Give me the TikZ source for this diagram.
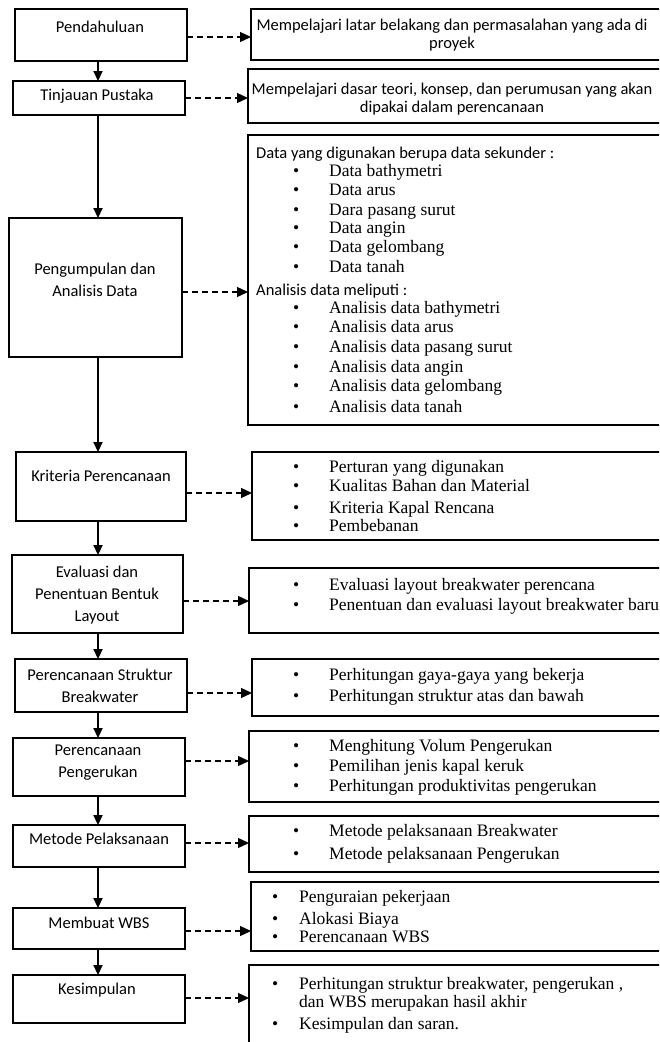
\documentclass[tikz,border=0pt]{standalone}
\usepackage{fontspec}
\setmainfont{Liberation Serif}
\newfontfamily\calibri{Carlito}
\usetikzlibrary{arrows.meta}

\begin{document}
\begin{tikzpicture}[x = 1pt, y = -1pt,
    box/.style = {draw, line width = 1.5pt, anchor = north west,
                  inner sep = 0pt, outer sep = 0pt},
    title/.style = {font = \calibri\fontsize{16.5}{22}\selectfont,
                    align = center, inner sep = 0pt},
    note/.style = {font = \calibri\fontsize{16.5}{17.5}\selectfont,
                   align = center, inner sep = 0pt},
    entry/.style = {font = \fontsize{17.5}{20}\selectfont, anchor = west,
                    inner sep = 0pt, text height = 11pt, text depth = 3pt},
    down/.style = {line width = 2.2pt, -{Triangle[length = 10pt, width = 9pt]}},
    aside/.style = {line width = 1.3pt, dash pattern = on 6pt off 4pt,
                    -{Triangle[length = 11pt, width = 10pt]}}]
      \useasboundingbox (0,0) rectangle (659,1042);
      \clip (0,0) rectangle (659,1042);
      \coordinate (axis) at (98,0);

      \node [box, minimum width = 172pt, minimum height = 52pt] (pend) at (15,9) {};
      \node [box, minimum width = 172pt, minimum height = 34pt] (tinj) at (13,81) {};
      \node [box, minimum width = 173pt, minimum height = 139pt] (kump) at (9,218) {};
      \node [box, minimum width = 170pt, minimum height = 69pt] (krit) at (16,452) {};
      \node [box, minimum width = 171pt, minimum height = 78pt] (eval) at (12,555) {};
      \node [box, minimum width = 172pt, minimum height = 53pt] (stru) at (15,659) {};
      \node [box, minimum width = 172pt, minimum height = 58pt] (keruk) at (13,738) {};
      \node [box, minimum width = 172pt, minimum height = 42pt] (meto) at (13,825) {};
      \node [box, minimum width = 172pt, minimum height = 41pt] (wbs) at (13,908) {};
      \node [box, minimum width = 172pt, minimum height = 48pt] (kesim) at (13,975) {};

      \node [box, minimum width = 419pt, minimum height = 51pt] (r1) at (251,9) {};
      \node [box, minimum width = 422pt, minimum height = 54pt] (r2) at (248,69) {};
      \node [box, minimum width = 422pt, minimum height = 290pt] (r3) at (248,135) {};
      \node [box, minimum width = 418pt, minimum height = 88pt] (r4) at (252,452) {};
      \node [box, minimum width = 421pt, minimum height = 65pt] (r5) at (249,568) {};
      \node [box, minimum width = 418pt, minimum height = 57pt] (r6) at (252,659) {};
      \node [box, minimum width = 421pt, minimum height = 71pt] (r7) at (249,731) {};
      \node [box, minimum width = 421pt, minimum height = 56pt] (r8) at (249,816) {};
      \node [box, minimum width = 419pt, minimum height = 69pt] (r9) at (251,882) {};
      \node [box, minimum width = 421pt, minimum height = 90pt] (r10) at (249,965) {};

      \node [title] (pendT) at (100,27) {Pendahuluan};
      \node [title] (tinjT) at (97,96) {Tinjauan Pustaka};
      \node [title] (kumpT) at (95,280) {Pengumpulan dan\\Analisis Data};
      \node [title] (kritT) at (101,476) {Kriteria Perencanaan};
      \node [title] (evalT) at (97,595) {Evaluasi dan\\Penentuan Bentuk\\Layout};
      \node [title] (struT) at (100,686) {Perencanaan Struktur\\Breakwater};
      \node [title] (kerukT) at (98,763) {Perencanaan\\Pengerukan};
      \node [title] (metoT) at (99,839) {Metode Pelaksanaan};
      \node [title] (wbsT) at (99,923) {Membuat WBS};
      \node [title] (kesimT) at (97,990) {Kesimpulan};

      \node [note] (r1T) at (452,35)
        {Mempelajari latar belakang dan permasalahan yang ada di\\proyek};
      \node [note] (r2T) at (452,99)
        {Mempelajari dasar teori, konsep, dan perumusan yang akan\\dipakai dalam perencanaan};
      \node [note, anchor = west] (r3A) at (256,154) {Data yang digunakan berupa data sekunder :};
      \node [note, anchor = west] (r3B) at (256,291) {Analisis data meliputi :};

      \foreach \y/\t in {172/Data bathymetri, 191/Data arus, 211/Dara pasang surut,
                         229/Data angin, 248/Data gelombang, 268/Data tanah,
                         309/Analisis data bathymetri, 328/Analisis data arus,
                         348/Analisis data pasang surut, 368/Analisis data angin,
                         387/Analisis data gelombang, 408/Analisis data tanah,
                         468/Perturan yang digunakan, 487/Kualitas Bahan dan Material,
                         509/Kriteria Kapal Rencana, 527/Pembebanan,
                         586/Evaluasi layout breakwater perencana,
                         606/Penentuan dan evaluasi layout breakwater baru,
                         676/Perhitungan gaya-gaya yang bekerja,
                         697/Perhitungan struktur atas dan bawah,
                         747/Menghitung Volum Pengerukan, 767/Pemilihan jenis kapal keruk,
                         787/Perhitungan produktivitas pengerukan,
                         832/Metode pelaksanaan Breakwater, 855/Metode pelaksanaan Pengerukan} {
        \node [entry] (b\y) at (293,\y) {•};
        \node [entry] (e\y) at (329,\y) {\t};
      }
      \foreach \y/\t in {898/Penguraian pekerjaan, 920/Alokasi Biaya, 938/Perencanaan WBS,
                         985/{Perhitungan struktur breakwater, pengerukan ,},
                         1025/Kesimpulan dan saran.} {
        \node [entry] (b\y) at (272,\y) {•};
        \node [entry] (e\y) at (299,\y) {\t};
      }
      \node [entry] (e1003) at (299,1003) {dan WBS merupakan hasil akhir};

      \foreach \a/\b in {pend/tinj, tinj/kump, kump/krit, krit/eval, eval/stru,
                         stru/keruk, keruk/meto, meto/wbs, wbs/kesim}
        \draw [down] (\a.south -| axis) -- (\b.north -| axis);

      \foreach \a/\b/\y in {pend/r1/37, tinj/r2/98, kump/r3/292, krit/r4/493,
                            eval/r5/601, stru/r6/693, keruk/r7/761, meto/r8/843,
                            wbs/r9/931, kesim/r10/998} {
        \coordinate (lev) at (0,\y);
        \draw [aside] (\a.east |- lev) -- (\b.west |- lev);
      }
    \end{tikzpicture}
\end{document}
